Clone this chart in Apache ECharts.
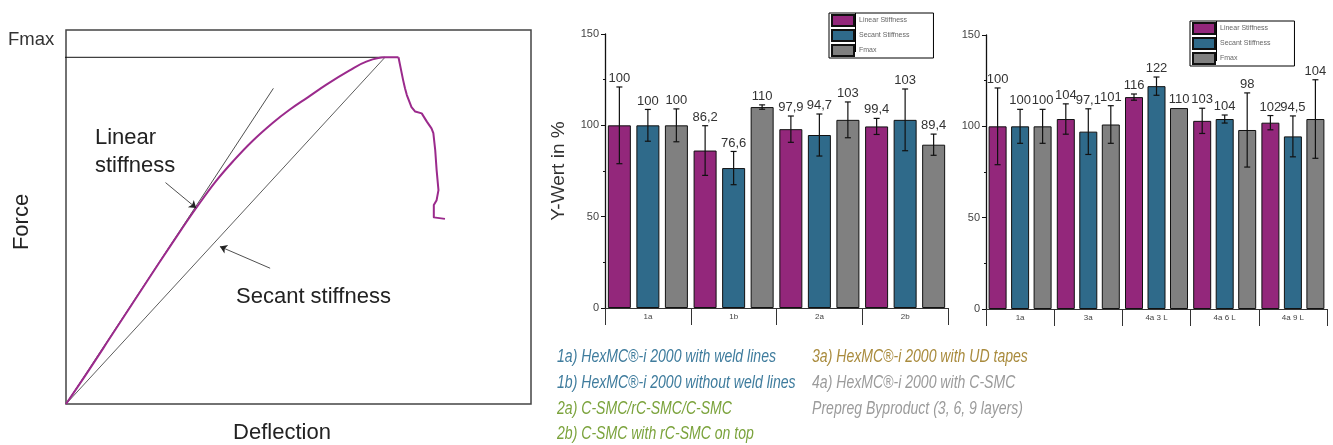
<!DOCTYPE html>
<html>
<head>
<meta charset="utf-8">
<script src="https://cdn.jsdelivr.net/npm/echarts@6/dist/echarts.min.js"></script>
<style>html,body{margin:0;padding:0;background:#fff}#c{width:1333px;height:445px}</style>
</head>
<body>
<div id="c"></div>
<script>
// ---- schematic (left) ----
const risePts = [[0,0],[5,9.2],[10,18.7],[15,28.2],[20,37.7],[25,47.0],[28,52.4],[32,59.2],[36,65.0],[40,70.2],[44.5,75.2],[48,78.6],[52,82.0],[56,85.4],[61,89.2],[64.7,91.6],[68.6,92.7],[71.5,92.7]];
const dropPts = [[71.5,92.7],[72.5,86.6],[72.9,84.4],[73.3,82.6],[74.3,79.4],[75.1,78.2],[76.5,77.7],[77.6,75.5],[78.6,73.7],[79.0,72.4],[79.4,67.9],[79.7,62.6],[80.1,57.2],[79.7,54.5],[79.1,53.2],[79.1,49.9],[81.5,49.5]];
const linearPts = [[0,0],[44.6,84.4]];
const secantPts = [[0,0],[68.6,92.7]];
const fmaxPts = [[-2.8,92.7],[68.6,92.7]];
const arrowPts = [[[21.4,59.2],[28.0,52.4]],[[43.9,36.3],[33.1,42.1]]];

// ---- chart A (middle) ----
const catsA = ['1a','1b','2a','2b'];
const linA = [100, 86.2, 97.9, 99.4];
const secA = [100, 76.6, 94.7, 103];
const fmxA = [100, 110, 103, 89.4];
const linAErr = [21, 13.6, 7.2, 4.4];
const secAErr = [8.7, 9.1, 11.5, 16.9];
const fmxAErr = [9, 1.2, 9.8, 5.8];

// ---- chart B (right) ----
const catsB = ['1a','3a','4a 3 L','4a 6 L','4a 9 L'];
const linB = [100, 104, 116, 103, 102];
const secB = [100, 97.1, 122, 104, 94.5];
const fmxB = [100, 101, 110, 98, 104];
const linBErr = [21, 8.3, 1.7, 6.9, 3.9];
const secBErr = [9.3, 12.5, 5, 2.2, 11.2];
const fmxBErr = [9.3, 10.3, 0, 20.3, 21.5];

const yTicks = [0, 50, 100, 150];
const seriesNames = ['Linear Stiffness','Secant Stiffness','Fmax'];
const colors = ['#93277b','#2f6a8a','#808080'];

const FONT = 'Liberation Sans, Arial, sans-serif';
const fmt = v => String(v).replace('.', ',');

function errSeries(name, axisIdx, vals, errs, k, pitch, cap) {
  return {
    type: 'custom', name: name + ' err', xAxisIndex: axisIdx, yAxisIndex: axisIdx, z: 5,
    data: vals.map((v, i) => [i, v, errs[i]]),
    encode: {x: 0, y: 1},
    renderItem: function (params, api) {
      const i = api.value(0), v = api.value(1), e = api.value(2);
      const c = api.coord([i, v]);
      const x = c[0] + (k - 1) * pitch;
      const yt = api.coord([i, v + e])[1];
      const yb = api.coord([i, v - e])[1];
      const ch = [];
      if (e > 0) {
        const ls = {stroke: '#111', lineWidth: 1.2};
        ch.push({type: 'line', shape: {x1: x, y1: yt, x2: x, y2: yb}, style: ls});
        ch.push({type: 'line', shape: {x1: x - cap, y1: yt, x2: x + cap, y2: yt}, style: ls});
        ch.push({type: 'line', shape: {x1: x - cap, y1: yb, x2: x + cap, y2: yb}, style: ls});
      }
      ch.push({type: 'text', x: x, y: yt - 2, style: {text: fmt(v), align: 'center', verticalAlign: 'bottom', fill: '#333', fontSize: 13, fontFamily: FONT}});
      return {type: 'group', children: ch};
    }
  };
}

function barSeries(name, axisIdx, vals, k, bw, gap) {
  return {
    type: 'bar', name: name, xAxisIndex: axisIdx, yAxisIndex: axisIdx,
    data: vals, barWidth: bw, barGap: gap,
    itemStyle: {color: colors[k], borderColor: '#111', borderWidth: 1}
  };
}

function yAx(grid, withName) {
  return {
    type: 'value', gridIndex: grid, min: yTicks[0], max: yTicks[yTicks.length - 1], interval: 50,
    name: withName ? 'Y-Wert in %' : '', nameLocation: 'middle', nameGap: 37,
    nameTextStyle: {fontSize: 19, color: '#333', fontFamily: FONT},
    axisLine: {show: true, lineStyle: {color: '#111', width: 1.3}},
    axisTick: {show: true, length: 4, lineStyle: {color: '#111'}},
    minorTick: {show: true, splitNumber: 2, length: 2, lineStyle: {color: '#111'}},
    axisLabel: {fontSize: 11, color: '#444', margin: 6, fontFamily: FONT},
    splitLine: {show: false}
  };
}

function xAxMain(grid, cats) {
  return {
    type: 'category', gridIndex: grid, data: cats, boundaryGap: true,
    axisLine: {show: true, lineStyle: {color: '#111', width: 1.2}},
    axisTick: {show: true, length: 17, interval: 0, lineStyle: {color: '#333', width: 1}},
    axisLabel: {fontSize: 8, color: '#444', margin: 5, interval: 0, fontFamily: FONT}
  };
}
function xAxBox(grid, cats) {
  return {
    type: 'category', gridIndex: grid, data: cats, position: 'bottom', offset: 17,
    axisLine: {show: true, lineStyle: {color: '#333', width: 1.2}},
    axisTick: {show: false}, axisLabel: {show: false}
  };
}

const series = [];
// schematic
series.push({type: 'line', xAxisIndex: 0, yAxisIndex: 0, data: linearPts, symbol: 'none', lineStyle: {color: '#222', width: 0.8}, z: 2});
series.push({type: 'line', xAxisIndex: 0, yAxisIndex: 0, data: secantPts, symbol: 'none', lineStyle: {color: '#333', width: 0.8}, z: 2});
series.push({type: 'line', xAxisIndex: 0, yAxisIndex: 0, data: fmaxPts, symbol: 'none', clip: false, lineStyle: {color: '#111', width: 1}, z: 2});
series.push({type: 'line', xAxisIndex: 0, yAxisIndex: 0, data: risePts, symbol: 'none', smooth: 0.4, lineStyle: {color: '#9b2a8c', width: 2}, z: 3});
series.push({type: 'line', xAxisIndex: 0, yAxisIndex: 0, data: dropPts, symbol: 'none', lineStyle: {color: '#9b2a8c', width: 2, join: 'round'}, z: 3});
series.push({type: 'lines', coordinateSystem: 'cartesian2d', xAxisIndex: 0, yAxisIndex: 0,
  data: arrowPts.map(p => ({coords: p})), symbol: ['none', 'arrow'], symbolSize: 7,
  lineStyle: {color: '#222', width: 0.8, opacity: 1}, z: 4});

// chart A
[linA, secA, fmxA].forEach((d, k) => series.push(barSeries(seriesNames[k], 1, d, k, 23, '24%')));
[[linA, linAErr], [secA, secAErr], [fmxA, fmxAErr]].forEach((p, k) => series.push(errSeries(seriesNames[k], 1, p[0], p[1], k, 28.5, 3)));
// chart B
[linB, secB, fmxB].forEach((d, k) => series.push(barSeries(seriesNames[k], 3, d, k, 18, '25%')));
[[linB, linBErr], [secB, secBErr], [fmxB, fmxBErr]].forEach((p, k) => series.push(errSeries(seriesNames[k], 3, p[0], p[1], k, 22.5, 3)));

function legendAt(left, top) {
  return {
    data: seriesNames.map(n => ({name: n, icon: 'rect'})), left: left, top: top, orient: 'vertical', selectedMode: false,
    itemWidth: 22, itemHeight: 11, itemGap: 2, itemTextGap: 4,
    padding: [1, 24, 1, 2], borderColor: '#000', borderWidth: 1, backgroundColor: '#fff',
    textStyle: {fontSize: 7, color: '#666', fontFamily: FONT}
  };
}

const caption = [
  {t: '1a) HexMC®-i 2000 with weld lines', x: 557, y: 357, c: '#3f7c9d'},
  {t: '1b) HexMC®-i 2000 without weld lines', x: 557, y: 383, c: '#3f7c9d'},
  {t: '2a) C-SMC/rC-SMC/C-SMC', x: 557, y: 409, c: '#7ba33c'},
  {t: '2b) C-SMC with rC-SMC on top', x: 557, y: 434, c: '#7ba33c'},
  {t: '3a) HexMC®-i 2000 with UD tapes', x: 812, y: 357, c: '#a98b3d'},
  {t: '4a) HexMC®-i 2000 with C-SMC', x: 812, y: 383, c: '#9b9b9b'},
  {t: 'Prepreg Byproduct (3, 6, 9 layers)', x: 812, y: 409, c: '#9b9b9b'}
];

const graphics = [
  {type: 'text', x: 8, y: 40, style: {text: 'Fmax', fontSize: 18.5, fill: '#333', fontFamily: FONT, verticalAlign: 'middle'}},
  {type: 'text', x: 95, y: 138, style: {text: 'Linear', fontSize: 22, fill: '#222', fontFamily: FONT, verticalAlign: 'middle'}},
  {type: 'text', x: 95, y: 166, style: {text: 'stiffness', fontSize: 22, fill: '#222', fontFamily: FONT, verticalAlign: 'middle'}},
  {type: 'text', x: 236, y: 297, style: {text: 'Secant stiffness', fontSize: 22, fill: '#222', fontFamily: FONT, verticalAlign: 'middle'}},
  {type: 'text', x: 22, y: 222, rotation: Math.PI / 2, style: {text: 'Force', fontSize: 22, fill: '#222', fontFamily: FONT, align: 'center', verticalAlign: 'middle'}},
  {type: 'text', x: 282, y: 433, style: {text: 'Deflection', fontSize: 22, fill: '#222', fontFamily: FONT, align: 'center', verticalAlign: 'middle'}},
  {type: 'line', shape: {x1: 855.5, y1: 13, x2: 855.5, y2: 52}, style: {stroke: '#000', lineWidth: 1}, z: 100},
  {type: 'line', shape: {x1: 1216.5, y1: 21, x2: 1216.5, y2: 61}, style: {stroke: '#000', lineWidth: 1}, z: 100}
].concat(caption.map(c => ({type: 'text', x: c.x, y: c.y, scaleX: 0.76,
  style: {text: c.t, fontSize: 18.5, fontStyle: 'italic', fill: c.c, fontFamily: FONT, verticalAlign: 'middle'}})));

const chart = echarts.init(document.getElementById('c'), null, {renderer: 'canvas'});
chart.setOption({
  animation: false,
  backgroundColor: '#fff',
  grid: [
    {left: 66, top: 30, width: 465, height: 374, show: true, borderColor: '#444', borderWidth: 1.5, backgroundColor: 'transparent'},
    {left: 605, top: 34, width: 343, height: 274},
    {left: 986, top: 35, width: 341, height: 274}
  ],
  xAxis: [
    {type: 'value', gridIndex: 0, min: 0, max: 100, show: false},
    xAxMain(1, catsA), xAxBox(1, catsA),
    xAxMain(2, catsB), xAxBox(2, catsB)
  ],
  yAxis: [
    {type: 'value', gridIndex: 0, min: 0, max: 100, show: false},
    yAx(1, true), {type: 'value', gridIndex: 1, show: false, min: 0, max: 150},
    yAx(2, false), {type: 'value', gridIndex: 2, show: false, min: 0, max: 150}
  ],
  legend: [legendAt(829, 13), legendAt(1190, 21)],
  graphic: graphics,
  series: series
});
</script>
</body>
</html>
